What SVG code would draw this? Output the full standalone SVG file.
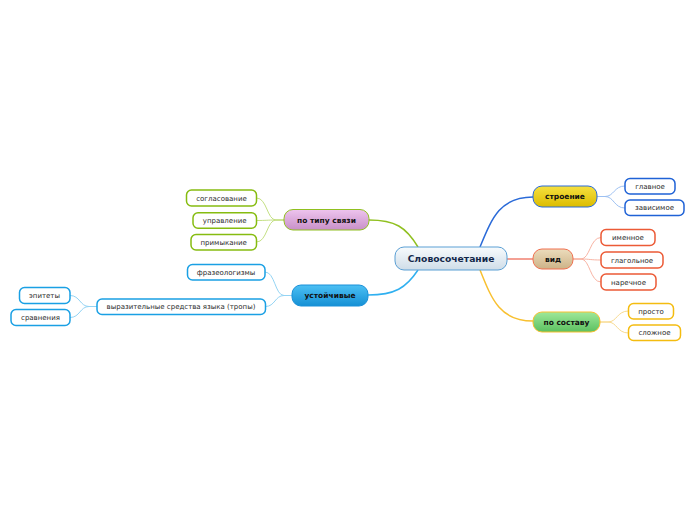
<svg xmlns="http://www.w3.org/2000/svg" width="696" height="520" viewBox="0 0 696 520">
<defs>
<linearGradient id="gC" x1="0" y1="0" x2="0" y2="1"><stop offset="0" stop-color="#f8fbfd"/><stop offset="1" stop-color="#cfdde8"/></linearGradient>
<linearGradient id="gY" x1="0" y1="0" x2="0" y2="1"><stop offset="0" stop-color="#f6e040"/><stop offset="1" stop-color="#dcbc00"/></linearGradient>
<linearGradient id="gT" x1="0" y1="0" x2="0" y2="1"><stop offset="0" stop-color="#ecdcbc"/><stop offset="1" stop-color="#cdb388"/></linearGradient>
<linearGradient id="gG" x1="0" y1="0" x2="0" y2="1"><stop offset="0" stop-color="#9ee89a"/><stop offset="1" stop-color="#5cc060"/></linearGradient>
<linearGradient id="gP" x1="0" y1="0" x2="0" y2="1"><stop offset="0" stop-color="#eec4ee"/><stop offset="1" stop-color="#c890c8"/></linearGradient>
<linearGradient id="gB" x1="0" y1="0" x2="0" y2="1"><stop offset="0" stop-color="#4cc0f4"/><stop offset="1" stop-color="#1590d4"/></linearGradient>
</defs>
<style>
text{font-family:"DejaVu Sans",Verdana,sans-serif;text-anchor:middle;fill:#2a2a2a}
.c{font-size:7px}
.m{font-size:7.5px;font-weight:bold;fill:#111}
.r{font-size:9.2px;font-weight:bold;fill:#13284a}
.ch{fill:#fff;stroke-width:1.5}
.mn{stroke-width:1}
.con{fill:none}
</style>
<g id="connectors" class="con">
<path d="M480,247 C492,218 500,197 533,197" stroke="#2a6ad8" stroke-width="1.5"/>
<path d="M507,259 L533,259" stroke="#f08070" stroke-width="1.5"/>
<path d="M480,270 C492,300 500,321 533,321" stroke="#f8c030" stroke-width="1.5"/>
<path d="M418,247 C406,227 395,220 369,220" stroke="#90c020" stroke-width="1.5"/>
<path d="M418,270 C406,288 395,295 368,295" stroke="#30b0f0" stroke-width="1.5"/>
<g stroke="#9cc0f2" stroke-width="1">
<path d="M597,196.5 L605,196.5 C614,196.5 614,186 625,186"/>
<path d="M597,196.5 L605,196.5 C614,196.5 614,208 625,208"/>
</g>
<g stroke="#f8b4a4" stroke-width="1">
<path d="M573,259 L581,259 C590,259 590,237.5 601,237.5"/>
<path d="M573,259 L581,259 C590,259 590,260 601,260"/>
<path d="M573,259 L581,259 C590,259 590,282 601,282"/>
</g>
<g stroke="#f8da90" stroke-width="1">
<path d="M600,322 L608,322 C617,322 617,311 628.5,311"/>
<path d="M600,322 L608,322 C617,322 617,333 628.5,333"/>
</g>
<g stroke="#c4e084" stroke-width="1">
<path d="M284,220 L276,220 C267,220 267,198 256.5,198"/>
<path d="M284,220 L276,220 C267,220 267,220.5 256.5,220.5"/>
<path d="M284,220 L276,220 C267,220 267,242 256.5,242"/>
</g>
<g stroke="#94d4f4" stroke-width="1">
<path d="M292,295.5 L284,295.5 C275,295.5 275,272 265,272"/>
<path d="M292,295.5 L284,295.5 C275,295.5 275,306.5 265.5,306.5"/>
<path d="M97,306.5 L89,306.5 C80,306.5 80,295.5 70,295.5"/>
<path d="M97,306.5 L89,306.5 C80,306.5 80,317.5 70,317.5"/>
</g>
</g>
<g id="root"><rect x="395" y="247" width="112" height="23" rx="9" fill="url(#gC)" stroke="#5a9fd4" stroke-width="1"/><text class="r" x="451" y="262.3">Словосочетание</text></g>
<g id="stroenie"><rect class="mn" x="533" y="186" width="64" height="21" rx="9" fill="url(#gY)" stroke="#2a6ad8"/><text class="m" x="565" y="199">строение</text></g>
<g id="vid"><rect class="mn" x="533" y="249" width="40" height="20" rx="9" fill="url(#gT)" stroke="#f07050"/><text class="m" x="553" y="261.5">вид</text></g>
<g id="po-sostavu"><rect class="mn" x="533" y="312" width="67" height="20" rx="9" fill="url(#gG)" stroke="#f8c030"/><text class="m" x="566.5" y="324.5">по составу</text></g>
<g id="po-tipu"><rect class="mn" x="284" y="209.5" width="85" height="20.5" rx="9" fill="url(#gP)" stroke="#90c020"/><text class="m" x="326.5" y="222.5">по типу связи</text></g>
<g id="ustoych"><rect class="mn" x="292" y="285" width="76" height="21" rx="9" fill="url(#gB)" stroke="#1a90d8"/><text class="m" x="330" y="298">устойчивые</text></g>
<g id="glavnoe"><rect class="ch" x="625" y="178.5" width="50" height="15.5" rx="5" stroke="#1f62d6"/><text class="c" x="650" y="188.8">главное</text></g>
<g id="zavisimoe"><rect class="ch" x="625" y="200" width="59" height="15.5" rx="5" stroke="#1f62d6"/><text class="c" x="654.5" y="210.3">зависимое</text></g>
<g id="imennoe"><rect class="ch" x="601" y="229.5" width="54" height="16" rx="5" stroke="#ec5a36"/><text class="c" x="628" y="240">именное</text></g>
<g id="glagolnoe"><rect class="ch" x="601" y="252" width="62" height="16" rx="5" stroke="#ec5a36"/><text class="c" x="632" y="262.5">глагольное</text></g>
<g id="narechnoe"><rect class="ch" x="601" y="274" width="55" height="16" rx="5" stroke="#ec5a36"/><text class="c" x="628.5" y="284.5">наречное</text></g>
<g id="prosto"><rect class="ch" x="628.5" y="303.5" width="45" height="15.5" rx="5" stroke="#f4bc10"/><text class="c" x="651" y="313.8">просто</text></g>
<g id="slozhnoe"><rect class="ch" x="628.5" y="325" width="52" height="15.5" rx="5" stroke="#f4bc10"/><text class="c" x="654.5" y="335.3">сложное</text></g>
<g id="soglasovanie"><rect class="ch" x="186.5" y="190" width="70" height="16" rx="5" stroke="#86bc10"/><text class="c" x="221.5" y="200.5">согласование</text></g>
<g id="upravlenie"><rect class="ch" x="193" y="212.7" width="63.5" height="15.5" rx="5" stroke="#86bc10"/><text class="c" x="224.7" y="223">управление</text></g>
<g id="primykanie"><rect class="ch" x="191" y="234.5" width="65.5" height="15.5" rx="5" stroke="#86bc10"/><text class="c" x="223.7" y="244.8">примыкание</text></g>
<g id="frazeologizmy"><rect class="ch" x="187.5" y="264.5" width="77.5" height="15.5" rx="5" stroke="#1aa0e4"/><text class="c" x="226" y="274.8">фразеологизмы</text></g>
<g id="vyrazitelnye"><rect class="ch" x="97" y="299" width="168.5" height="15.5" rx="5" stroke="#1aa0e4"/><text class="c" x="181" y="309.3">выразительные средства языка (тропы)</text></g>
<g id="epitety"><rect class="ch" x="19.5" y="287.5" width="50.5" height="16" rx="5" stroke="#1aa0e4"/><text class="c" x="44.5" y="298">эпитеты</text></g>
<g id="sravneniya"><rect class="ch" x="11" y="309.5" width="59" height="16" rx="5" stroke="#1aa0e4"/><text class="c" x="40.5" y="320">сравнения</text></g>
</svg>
